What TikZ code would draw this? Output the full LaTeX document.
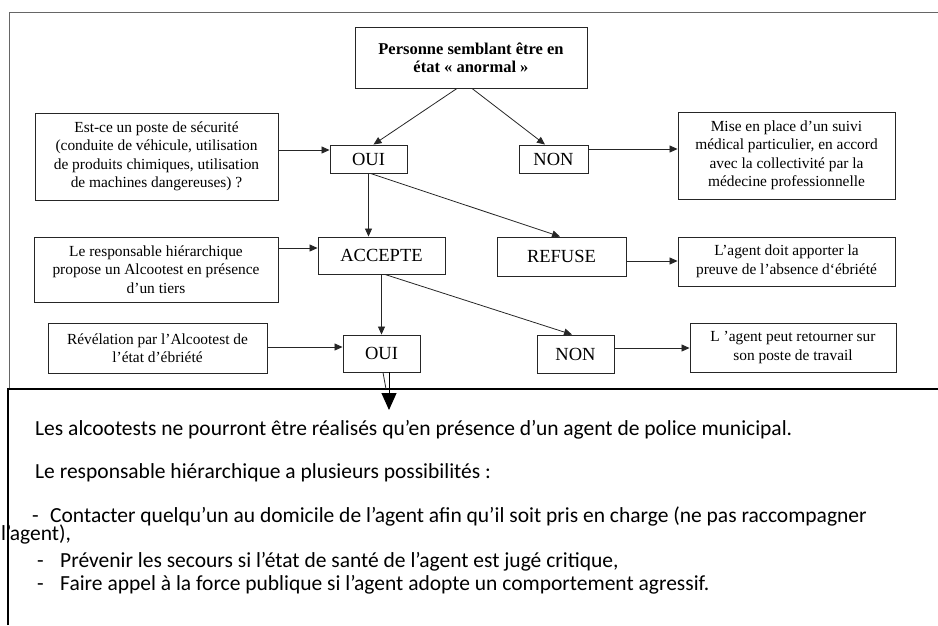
\documentclass[tikz,border=0pt]{standalone}
\usepackage{fontspec}
\setmainfont{Liberation Serif}
\newfontfamily\calib{Carlito}
\usetikzlibrary{arrows.meta}
\begin{document}
\begin{tikzpicture}[x=1pt,y=-1pt,
  box/.style={draw=black!85, line width=0.9pt, align=center, inner sep=0pt,
    font=\fontsize{15.4}{18.5}\selectfont},
  big/.style={font=\fontsize{18.5}{20}\selectfont},
  arr/.style={draw=black!85, line width=0.8pt, -{Triangle[length=8pt,width=7pt]}},
  btxt/.style={anchor=base west, inner sep=0pt, font=\calib\fontsize{21.5}{24}\selectfont}]
\useasboundingbox (0,0) rectangle (938,625);
% scan frame
\draw[black!60, line width=0.8pt] (9,389) -- (9,12) -- (938,12);
% nodes
\node[box, minimum width=232pt, minimum height=61pt, font=\bfseries\fontsize{16.5}{18}\selectfont] (top) at (471,57.5) {Personne semblant être en\\ état « anormal »};
\node[box, minimum width=243pt, minimum height=87pt] (lb1) at (156.5,156.5) {Est-ce un poste de sécurité\\ (conduite de véhicule, utilisation\\ de produits chimiques, utilisation\\ de machines dangereuses) ?};
\node[box, big, minimum width=77pt, minimum height=28pt] (oui1) at (368.5,159) {OUI};
\node[box, big, minimum width=69pt, minimum height=28pt] (non1) at (553.5,159) {NON};
\node[box, minimum width=217pt, minimum height=87pt] (rb1) at (786.5,155.5) {Mise en place d'un suivi\\ médical particulier, en accord\\ avec la collectivité par la\\ médecine professionnelle};
\node[box, minimum width=244pt, minimum height=65pt] (lb2) at (156,269.5) {Le responsable hiérarchique\\ propose un Alcootest en présence\\ d’un tiers};
\node[box, big, minimum width=127pt, minimum height=37pt] (acc) at (381.5,255.5) {ACCEPTE};
\node[box, big, minimum width=129pt, minimum height=39pt] (ref) at (561.5,256.5) {REFUSE};
\node[box, minimum width=217pt, minimum height=49pt] (rb2) at (786.5,261.5) {L’agent doit apporter la\\ preuve de l’absence d`ébriété};
\node[box, minimum width=219pt, minimum height=50pt] (lb3) at (157.5,348) {Révélation par l’Alcootest de\\ l’état d’ébriété};
\node[box, big, minimum width=77pt, minimum height=37pt] (oui2) at (381.5,353.5) {OUI};
\node[box, big, minimum width=77pt, minimum height=38pt] (non2) at (575.5,354) {NON};
\node[box, minimum width=206pt, minimum height=49pt] (rb3) at (793,347.5) {L ’agent peut retourner sur\\ son poste de travail};
% connectors
\draw[arr] ([xshift=-14pt]top.south) -- ([xshift=5pt]oui1.north);
\draw[arr] ([xshift=1pt]top.south) -- ([xshift=-8.5pt]non1.north);
\draw[arr] (lb1.east |- 0,150) -- (oui1.west |- 0,150);
\draw[arr] (non1.east |- 0,149) -- (rb1.west |- 0,149);
\draw[arr] (oui1.south) -- (oui1.south |- acc.north);
\draw[arr] ([xshift=2pt]oui1.south) -- ([xshift=-1.5pt]ref.north);
\draw[arr] (lb2.east |- 0,248) -- (acc.west |- 0,248);
\draw[arr] (ref.east |- 0,261) -- (rb2.west |- 0,261);
\draw[arr] (acc.south) -- (acc.south |- oui2.north);
\draw[arr] ([xshift=3.5pt]acc.south) -- ([xshift=-3.5pt]non2.north);
\draw[arr] (lb3.east |- 0,347) -- (oui2.west |- 0,347);
\draw[arr] (non2.east |- 0,348) -- (rb3.west |- 0,348);
% lower frame
\draw[black, line width=1.4pt] (8,625) -- (8,389) -- (938,389);
\coordinate (cut) at (386,389);
\coordinate (tip) at (389,410);
\draw[black!85, line width=0.8pt] ([xshift=1.5pt]oui2.south) -- (cut);
\draw[black, line width=1pt, -{Triangle[length=17pt,width=15pt]}] ([xshift=7.5pt]oui2.south) -- (tip);
% lower text
\node[btxt] (t1) at (35,435) {Les alcootests ne pourront être réalisés qu’en présence d’un agent de police municipal.};
\node[btxt] (t2) at (35,478) {Le responsable hiérarchique a plusieurs possibilités :};
\node[btxt] (t3d) at (32,522) {-};
\node[btxt] (t3) at (50,522) {Contacter quelqu’un au domicile de l’agent afin qu’il soit pris en charge (ne pas raccompagner};
\node[btxt] (t4) at (1,540) {l’agent),};
\node[btxt] (t5d) at (37,567) {-};
\node[btxt] (t5) at (60,567) {Prévenir les secours si l’état de santé de l’agent est jugé critique,};
\node[btxt] (t6d) at (37,590) {-};
\node[btxt] (t6) at (60,590) {Faire appel à la force publique si l’agent adopte un comportement agressif.};
\end{tikzpicture}
\end{document}
